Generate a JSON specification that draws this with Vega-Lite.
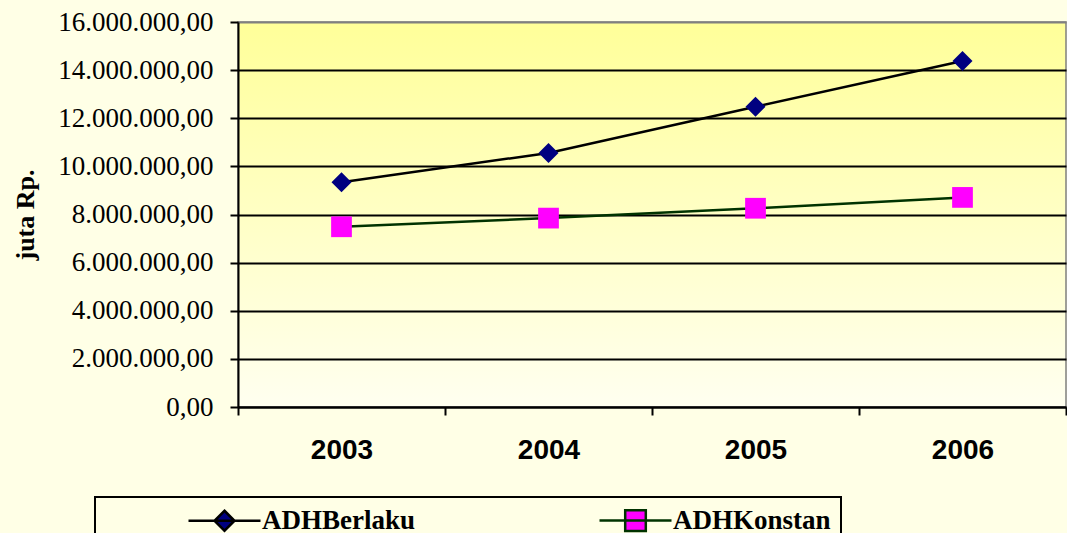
{
  "$schema": "https://vega.github.io/schema/vega-lite/v6.json",
  "width": 828,
  "height": 385,
  "autosize": {"type": "none"},
  "padding": {"left": 238, "top": 22, "right": 1, "bottom": 126},
  "background": "#FFFFE6",
  "config": {
    "locale": {"number": {"decimal": ",", "thousands": ".", "grouping": [3], "currency": ["Rp", ""]}},
    "view": {
      "stroke": "#808080",
      "strokeWidth": 1.5,
      "fill": {"gradient": "linear", "x1": 0, "y1": 0, "x2": 0, "y2": 1,
        "stops": [{"offset": 0, "color": "#FFFF99"}, {"offset": 1, "color": "#FFFFF0"}]}
    }
  },
  "data": {
    "values": [
      {"year": "2003", "series": "ADHBerlaku", "value": 9340000},
      {"year": "2004", "series": "ADHBerlaku", "value": 10560000},
      {"year": "2005", "series": "ADHBerlaku", "value": 12480000},
      {"year": "2006", "series": "ADHBerlaku", "value": 14380000},
      {"year": "2003", "series": "ADHKonstan", "value": 7490000},
      {"year": "2004", "series": "ADHKonstan", "value": 7850000},
      {"year": "2005", "series": "ADHKonstan", "value": 8260000},
      {"year": "2006", "series": "ADHKonstan", "value": 8710000}
    ]
  },
  "encoding": {
    "x": {
      "field": "year", "type": "ordinal",
      "scale": {"type": "band", "paddingInner": 0, "paddingOuter": 0},
      "axis": {
        "title": null, "grid": false, "labelAngle": 0, "tickBand": "extent",
        "domainColor": "black", "domainWidth": 2,
        "tickColor": "black", "tickWidth": 2, "tickSize": 8,
        "labelFont": "Liberation Sans", "labelFontWeight": "bold", "labelFontSize": 28,
        "labelColor": "black", "labelPadding": 21
      }
    },
    "y": {
      "field": "value", "type": "quantitative",
      "scale": {"domain": [0, 16000000], "nice": false},
      "axis": {
        "values": [0, 2000000, 4000000, 6000000, 8000000, 10000000, 12000000, 14000000, 16000000],
        "format": ",.2f",
        "labelFont": "Liberation Serif", "labelFontSize": 27, "labelColor": "black",
        "tickSize": 8, "tickWidth": 2, "tickColor": "black", "labelPadding": 17,
        "domainColor": "black", "domainWidth": 2,
        "gridColor": {"condition": {"test": "datum.value >= 16000000", "value": "#808080"}, "value": "black"},
        "gridWidth": 2,
        "title": "juta Rp.", "titleFont": "Liberation Serif", "titleFontSize": 26,
        "titleFontWeight": "bold", "titleColor": "black", "titlePadding": 19
      }
    }
  },
  "layer": [
    {
      "mark": {"type": "line", "strokeWidth": 2.5},
      "encoding": {
        "color": {
          "field": "series", "type": "nominal",
          "scale": {"domain": ["ADHBerlaku", "ADHKonstan"], "range": ["#000000", "#003300"]},
          "legend": {
            "orient": "none", "legendX": -143, "legendY": 475,
            "direction": "horizontal", "columns": 2, "columnPadding": 100,
            "padding": 10, "strokeColor": "black",
            "title": null,
            "symbolOffset": 106,
            "labelFont": "Liberation Serif", "labelFontSize": 27, "labelFontWeight": "bold",
            "labelColor": "black", "labelOffset": 24, "symbolSize": 400,
            "symbolStrokeWidth": 2.5,
            "labelExpr": "datum.label === 'ADHKonstan' ? datum.label + '\u00a0\u00a0\u00a0\u00a0\u00a0\u00a0\u00a0\u00a0\u00a0\u00a0\u00a0\u00a0' : datum.label",
            "encode": {
              "legend": {"update": {"strokeWidth": {"value": 2}}},
              "symbols": {"update": {
                "shape": {"signal": "datum.value === 'ADHBerlaku' ? 'M -3.6 0 L 3.6 0 M 0 -1 L 1 0 L 0 1 L -1 0 Z' : 'M -3.6 0 L 3.6 0 M -1.03 -1.03 L 1.03 -1.03 L 1.03 1.03 L -1.03 1.03 Z'"},
                "fill": {"signal": "datum.value === 'ADHBerlaku' ? '#000080' : '#FF00FF'"},
                "stroke": {"signal": "datum.value === 'ADHBerlaku' ? '#000000' : '#003300'"},
                "strokeWidth": {"value": 2.5},
                "opacity": {"value": 1}
              }}
            }
          }
        }
      }
    },
    {
      "transform": [{"filter": "datum.series === 'ADHBerlaku'"}],
      "mark": {"type": "point", "filled": true, "opacity": 1, "strokeWidth": 0, "size": 400, "shape": "diamond", "fill": "#000080"}
    },
    {
      "transform": [{"filter": "datum.series === 'ADHKonstan'"}],
      "mark": {"type": "point", "filled": true, "opacity": 1, "strokeWidth": 0, "size": 430, "shape": "square", "fill": "#FF00FF"}
    }
  ]
}
